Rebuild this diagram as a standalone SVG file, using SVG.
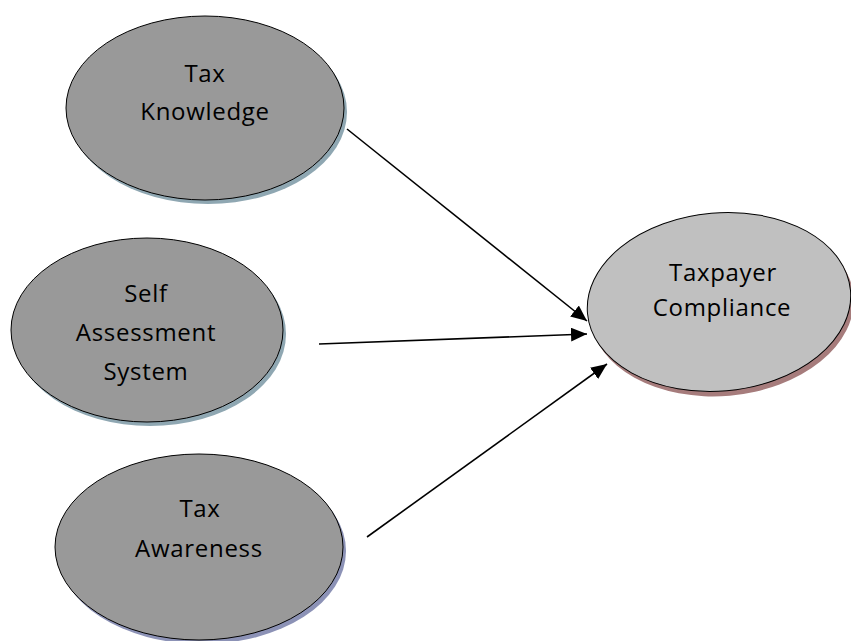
<svg xmlns="http://www.w3.org/2000/svg" width="851" height="641" viewBox="0 0 851 641">
<style>
.node{stroke:#000;stroke-width:1}
.dark{fill:#999999}
.light{fill:#c0c0c0}
.lbl{font-family:"Open Sans","Liberation Sans",sans-serif;font-size:24px;letter-spacing:0.7px;fill:#000;text-anchor:middle}
.conn{stroke:#000;stroke-width:1.6;fill:none}
</style>
<defs>
<marker id="ah" markerUnits="userSpaceOnUse" markerWidth="18" markerHeight="14" refX="16" refY="7" orient="auto">
<path d="M0,0 L16,7 L0,14 Z" fill="#000"/>
</marker>
</defs>
<rect width="851" height="641" fill="#fff"/>
<g id="node-tax-knowledge">
<ellipse cx="208" cy="112" rx="139" ry="92" fill="#8fa7b2"/>
<ellipse class="node dark" cx="205" cy="108" rx="139" ry="92"/>
<text class="lbl" x="205" y="82">Tax</text>
<text class="lbl" x="205" y="120">Knowledge</text>
</g>
<g id="node-self-assessment">
<ellipse cx="150" cy="334" rx="136" ry="92" fill="#8fa7b2"/>
<ellipse class="node dark" cx="147" cy="330" rx="136" ry="92"/>
<text class="lbl" x="146" y="302">Self</text>
<text class="lbl" x="146" y="341">Assessment</text>
<text class="lbl" x="146" y="380">System</text>
</g>
<g id="node-tax-awareness">
<ellipse cx="202" cy="551" rx="144" ry="93" fill="#8c92b6"/>
<ellipse class="node dark" cx="199" cy="547" rx="144" ry="93"/>
<text class="lbl" x="200" y="517">Tax</text>
<text class="lbl" x="199" y="557">Awareness</text>
</g>
<g id="node-taxpayer-compliance">
<ellipse cx="722" cy="307" rx="132" ry="89" fill="#a67c7c" transform="rotate(-5 722 307)"/>
<ellipse class="node light" cx="719" cy="302" rx="132" ry="89" transform="rotate(-5 719 302)"/>
<text class="lbl" x="723" y="281">Taxpayer</text>
<text class="lbl" x="722" y="316">Compliance</text>
</g>
<g id="connectors">
<line class="conn" x1="347" y1="129" x2="587" y2="321" marker-end="url(#ah)"/>
<line class="conn" x1="319" y1="344" x2="587" y2="334" marker-end="url(#ah)"/>
<line class="conn" x1="367" y1="537" x2="607" y2="364" marker-end="url(#ah)"/>
</g>
</svg>
